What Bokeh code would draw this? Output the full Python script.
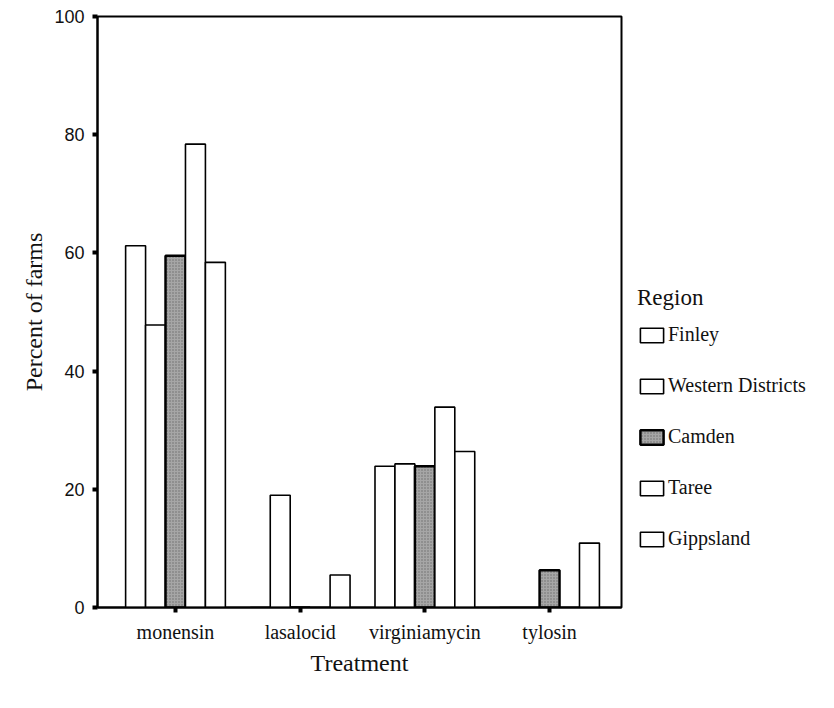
from bokeh.plotting import figure
from bokeh.models import Range1d, FixedTicker, Legend, LegendItem, ColumnDataSource
from bokeh.transform import dodge
from bokeh.embed import file_html
from bokeh.resources import INLINE

treatments = ["monensin", "lasalocid", "virginiamycin", "tylosin"]
regions = ["Finley", "Western Districts", "Camden", "Taree", "Gippsland"]
finley = [61.2, 0.0, 23.9, 0.0]
western_districts = [47.8, 19.0, 24.3, 0.0]
camden = [59.5, 0.0, 23.9, 6.3]
taree = [78.4, 0.0, 33.9, 0.0]
gippsland = [58.4, 5.5, 26.4, 10.9]
y_ticks = [0, 20, 40, 60, 80, 100]

series = [finley, western_districts, camden, taree, gippsland]
xpos = list(range(len(treatments)))

SERIF = "Liberation Serif"
SANS = "Liberation Sans"

p = figure(frame_width=524, frame_height=591, output_backend="svg", toolbar_location=None,
           x_range=Range1d(-0.6255, 3.577), y_range=Range1d(0, 100),
           min_border_left=97, min_border_right=0, min_border_top=16, min_border_bottom=96)
p.xgrid.visible = False
p.ygrid.visible = False
p.outline_line_color = "black"
p.outline_line_width = 2
p.background_fill_color = "white"
p.border_fill_color = "white"

bw = 0.16
items = []
for i, (name, vals) in enumerate(zip(regions, series)):
    src = ColumnDataSource(dict(x=xpos, top=vals))
    off = (i - 2) * bw
    if name == "Camden":
        r = p.vbar(x=dodge("x", off), top="top", width=bw, source=src,
                   fill_color="#a6a6a6", line_color="black", line_width=2.5,
                   hatch_pattern="dot", hatch_color="#555555", hatch_scale=3, hatch_alpha=0.7)
    else:
        r = p.vbar(x=dodge("x", off), top="top", width=bw, source=src,
                   fill_color="white", line_color="black", line_width=1.6)
    items.append(LegendItem(label=name, renderers=[r]))

# axes
p.xaxis.ticker = FixedTicker(ticks=xpos)
p.xaxis.major_label_overrides = {i: t for i, t in enumerate(treatments)}
p.yaxis.ticker = FixedTicker(ticks=y_ticks)
for ax in (p.xaxis[0], p.yaxis[0]):
    ax.axis_line_width = 2
    ax.axis_line_color = "black"
    ax.major_tick_line_width = 4
    ax.major_tick_line_cap = "butt"
    ax.major_tick_in = 0
    ax.major_tick_out = 5
    ax.minor_tick_line_color = None
    ax.axis_label_text_font = SERIF
    ax.axis_label_text_font_style = "normal"
    ax.axis_label_text_font_size = "24px"
    ax.axis_label_text_color = "#111111"

p.yaxis.axis_label = "Percent of farms"
p.yaxis.major_label_text_font = SANS
p.yaxis.major_label_text_font_size = "18px"
p.yaxis.major_label_text_color = "#111111"
p.yaxis.major_label_standoff = 8
p.yaxis.axis_label_standoff = 4

p.xaxis.axis_label = "Treatment"
p.xaxis.major_label_text_font = SERIF
p.xaxis.major_label_text_font_size = "20px"
p.xaxis.major_label_text_color = "#111111"
p.xaxis.major_label_standoff = 8
p.xaxis.axis_label_standoff = 4

legend = Legend(items=items, title="Region", location=(0, 41),
                margin=0, padding=16, spacing=28,
                glyph_width=29, glyph_height=18, label_height=20,
                label_standoff=2,
                label_text_font=SERIF, label_text_font_size="20px", label_text_color="#111111",
                title_text_font=SERIF, title_text_font_size="23px", title_text_font_style="normal",
                title_text_color="#111111", title_standoff=12,
                border_line_alpha=0, background_fill_alpha=0)
p.add_layout(legend, "right")

open("out.html", "w").write(file_html(p, INLINE))
